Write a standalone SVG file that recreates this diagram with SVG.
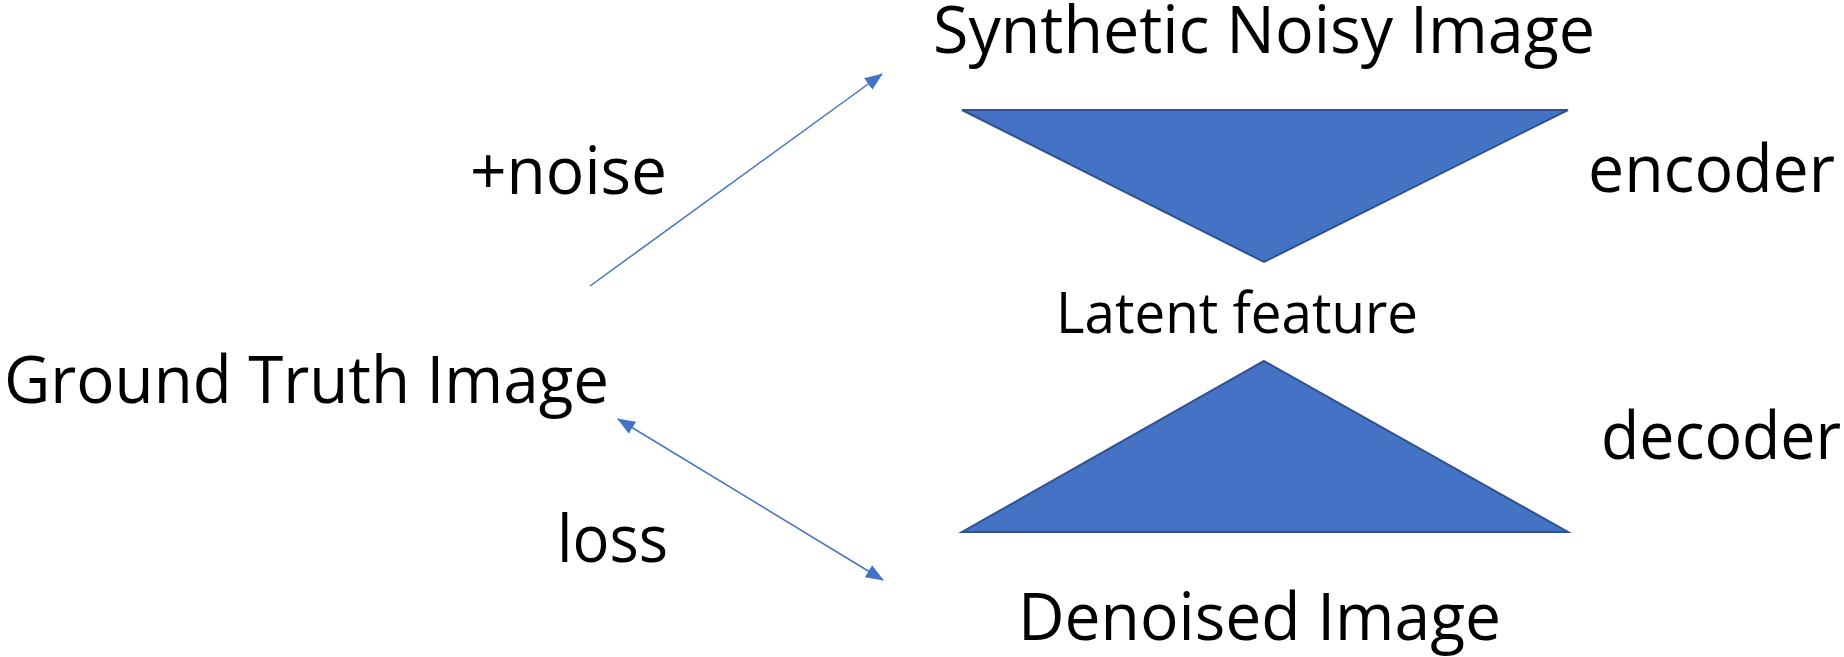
<svg xmlns="http://www.w3.org/2000/svg" width="1844" height="657" viewBox="0 0 1844 657">
  <style>
    .lbl { font-family: "Open Sans", "Noto Sans", "Liberation Sans", sans-serif; fill: #000; }
    .big { font-size: 66px; }
    .mid { font-size: 56px; }
    .tri { fill: #4472C4; stroke: #2F528F; stroke-width: 2; stroke-linejoin: miter; }
    .conn { stroke: #4472C4; stroke-width: 1.5; fill: none; }
  </style>
  <defs>
    <marker id="arrowEnd" markerUnits="userSpaceOnUse" markerWidth="18" markerHeight="14" refX="17" refY="7" orient="auto">
      <path d="M0,0 L18,7 L0,14 Z" fill="#4472C4"/>
    </marker>
    <marker id="arrowStart" markerUnits="userSpaceOnUse" markerWidth="18" markerHeight="14" refX="1" refY="7" orient="auto">
      <path d="M18,0 L0,7 L18,14 Z" fill="#4472C4"/>
    </marker>
  </defs>
  <rect width="1844" height="657" fill="#ffffff"/>

  <g id="encoder">
    <polygon class="tri" points="962,110 1568,110 1264,262"/>
  </g>
  <g id="decoder">
    <polygon class="tri" points="1264,361 1568,532 962,532"/>
  </g>

  <g id="connectors">
    <line id="noise-arrow" class="conn" x1="590" y1="286" x2="882" y2="74" marker-end="url(#arrowEnd)"/>
    <line id="loss-arrow" class="conn" x1="618" y1="419" x2="883" y2="580" marker-start="url(#arrowStart)" marker-end="url(#arrowEnd)"/>
  </g>

  <g id="synthetic-noisy-image">
    <text class="lbl big" x="933" y="53" textLength="662" lengthAdjust="spacingAndGlyphs">Synthetic Noisy Image</text>
  </g>
  <g id="ground-truth-image">
    <text class="lbl big" x="4" y="403" textLength="605" lengthAdjust="spacingAndGlyphs">Ground Truth Image</text>
  </g>
  <g id="denoised-image">
    <text class="lbl big" x="1018" y="640" textLength="483" lengthAdjust="spacingAndGlyphs">Denoised Image</text>
  </g>
  <g id="latent-feature">
    <text class="lbl mid" x="1056" y="333" textLength="362" lengthAdjust="spacingAndGlyphs">Latent feature</text>
  </g>
  <g id="labels">
    <text class="lbl big" x="470" y="194" textLength="197" lengthAdjust="spacingAndGlyphs">+noise</text>
    <text class="lbl big" x="557" y="562" textLength="111" lengthAdjust="spacingAndGlyphs">loss</text>
    <text class="lbl big" x="1588" y="192" textLength="247" lengthAdjust="spacingAndGlyphs">encoder</text>
    <text class="lbl big" x="1601" y="459" textLength="240" lengthAdjust="spacingAndGlyphs">decoder</text>
  </g>
</svg>
